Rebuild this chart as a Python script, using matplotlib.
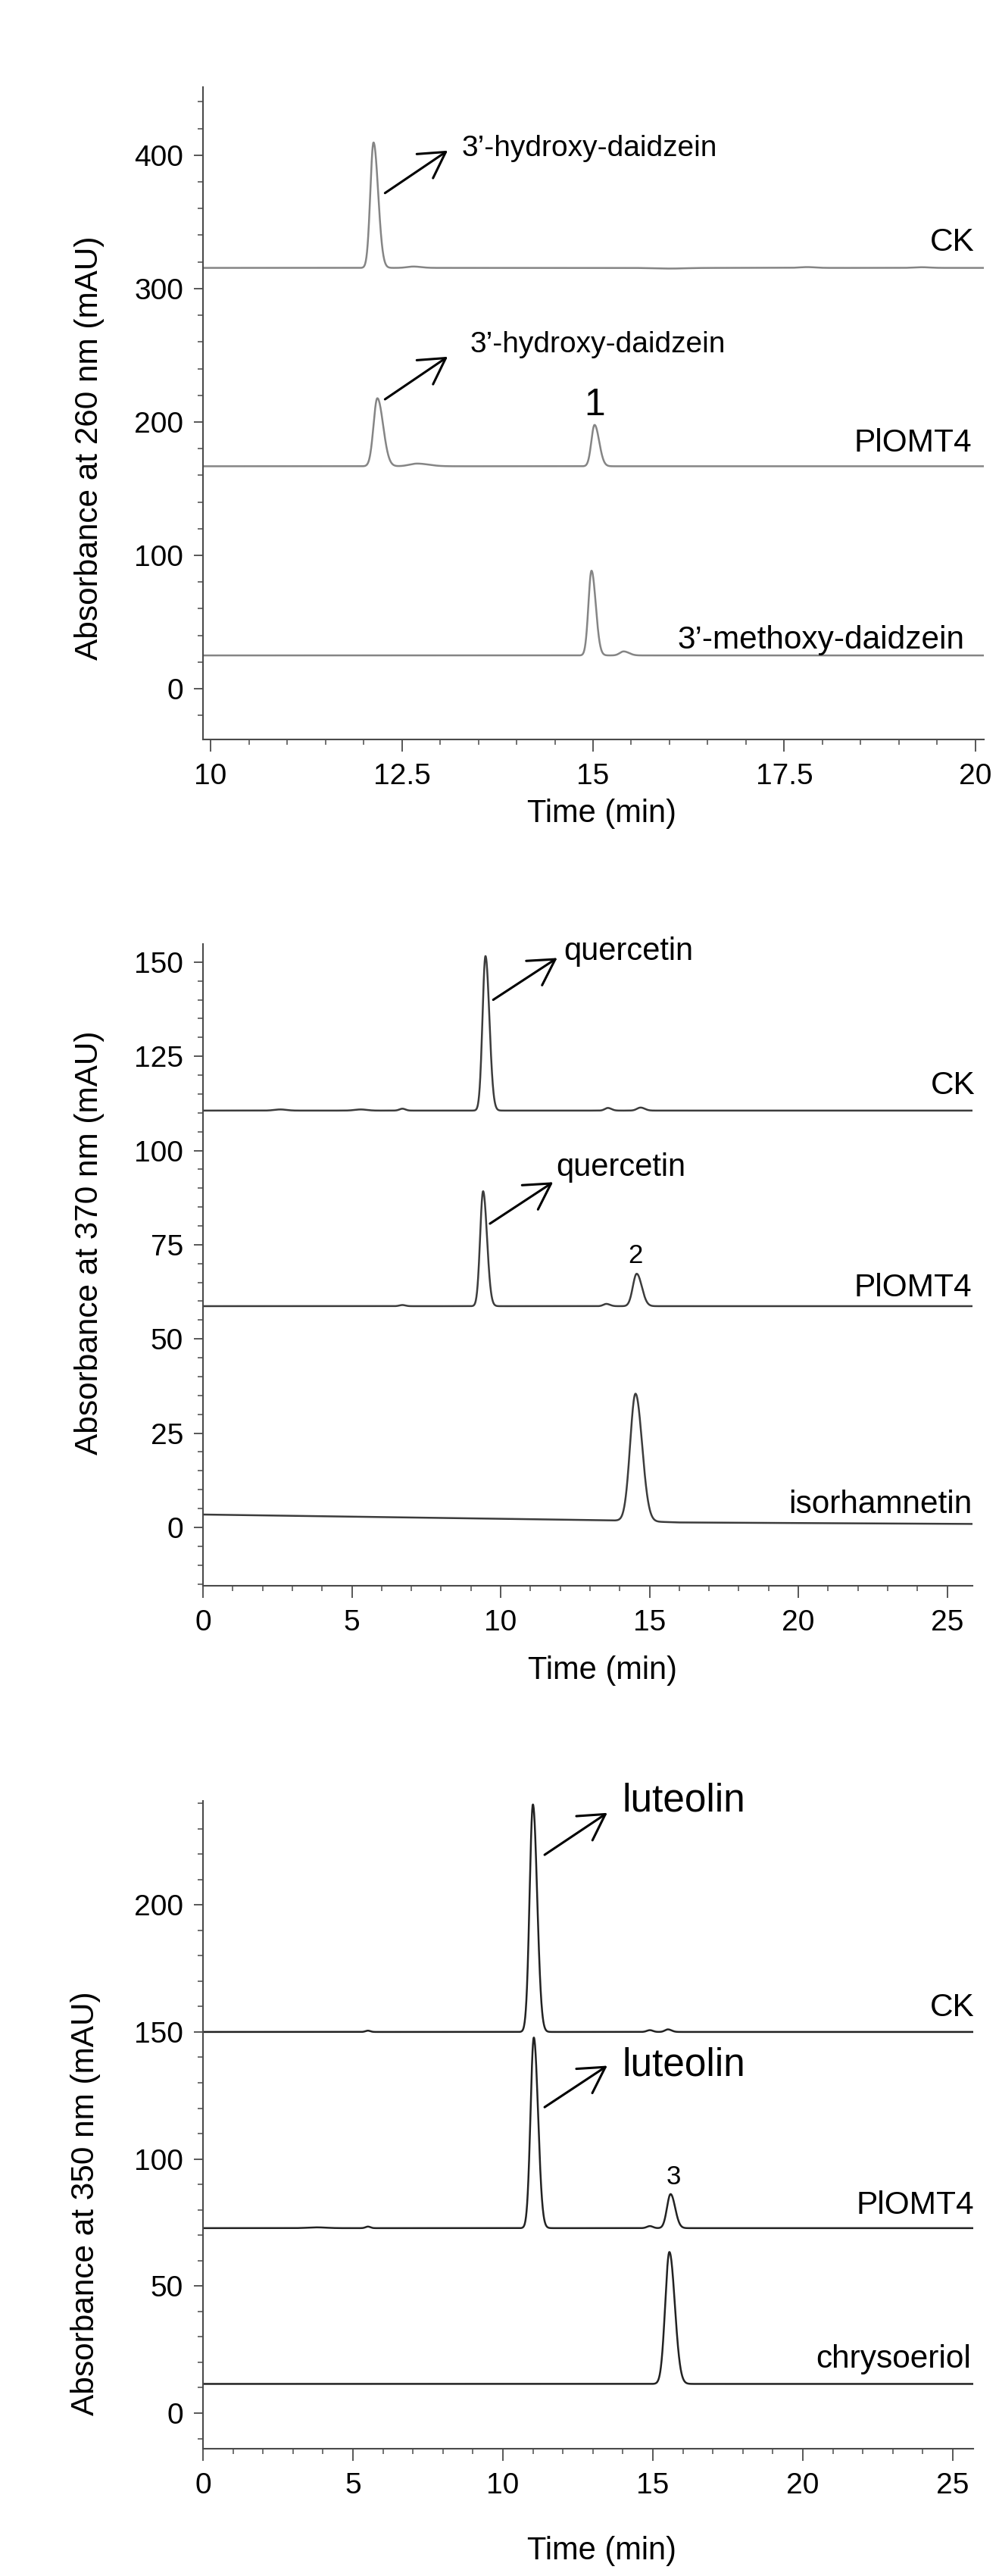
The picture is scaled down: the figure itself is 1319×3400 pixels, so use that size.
import numpy as np
import matplotlib
matplotlib.use("Agg")
import matplotlib.pyplot as plt
from matplotlib import font_manager
from matplotlib.ticker import MultipleLocator, FuncFormatter

# ---------------- data ----------------
# panel A: 260 nm
a_names = ["CK", "PlOMT4", "3’-methoxy-daidzein"]
a_baseline = [315.5, 166.8, 25.0]
a_rt = [[12.13, 12.65, 16.0, 17.8, 19.3],
        [12.18, 12.70, 15.02],
        [14.98, 15.40]]
a_height = [[94.0, 1.0, -0.5, 0.6, 0.5],
            [51.0, 2.0, 31.0],
            [63.5, 3.0]]
a_sig_left = [[0.042, 0.08, 0.2, 0.1, 0.1],
              [0.050, 0.10, 0.042],
              [0.040, 0.05]]
a_sig_right = [[0.060, 0.10, 0.2, 0.1, 0.1],
               [0.075, 0.15, 0.060],
               [0.055, 0.07]]

# panel B: 370 nm
b_names = ["CK", "PlOMT4", "isorhamnetin"]
b_baseline = [110.6, 58.7, 0.0]
b_drift_t = [0, 14, 16, 26]
b_drift = [[0.0, 0.0, 0.0, 0.0],
           [0.0, 0.0, 0.0, 0.0],
           [3.4, 1.8, 1.3, 0.9]]
b_rt = [[9.49, 6.7, 13.6, 14.7, 2.6, 5.3],
        [9.41, 6.7, 13.55, 14.57],
        [14.53]]
b_height = [[41.0, 0.5, 0.7, 0.8, 0.3, 0.3],
            [30.5, 0.3, 0.6, 8.6],
            [33.8]]
b_sig_left = [[0.10, 0.10, 0.10, 0.12, 0.2, 0.2],
              [0.10, 0.10, 0.10, 0.13],
              [0.18]]
b_sig_right = [[0.13, 0.10, 0.12, 0.14, 0.2, 0.2],
               [0.13, 0.10, 0.12, 0.17],
               [0.22]]

# panel C: 350 nm
c_names = ["CK", "PlOMT4", "chrysoeriol"]
c_baseline = [150.0, 72.8, 11.5]
c_rt = [[11.00, 5.5, 14.9, 15.5],
        [11.03, 5.5, 14.9, 15.59, 3.8],
        [15.55]]
c_height = [[89.5, 0.5, 0.7, 1.0],
            [75.0, 0.6, 0.8, 13.4, 0.3],
            [51.9]]
c_sig_left = [[0.11, 0.08, 0.10, 0.10],
              [0.11, 0.08, 0.10, 0.12, 0.3],
              [0.14]]
c_sig_right = [[0.14, 0.08, 0.10, 0.12],
               [0.14, 0.08, 0.10, 0.15, 0.3],
               [0.18]]


def trace(t, base, rts, hs, sl, sr):
    y = np.full_like(t, base, dtype=float)
    for r, h, a, b in zip(rts, hs, sl, sr):
        s = np.where(t < r, a, b)
        y += h * np.exp(-0.5 * ((t - r) / s) ** 2)
    return y


# ---------------- style ----------------
plt.rcParams["font.family"] = ["Liberation Sans", "DejaVu Sans"]
try:
    font_manager.findfont(font_manager.FontProperties(family="Liberation Sans Narrow"),
                          fallback_to_default=False)
    tick_family = ["Liberation Sans Narrow", "Liberation Sans"]
    tick_size = 32
except Exception:
    tick_family = ["Liberation Sans", "DejaVu Sans"]
    tick_size = 28

spine_col = "#4a4a4a"
fmt = FuncFormatter(lambda v, p: "%g" % v)

fig = plt.figure(figsize=(13.19, 34.0), dpi=100)

panels = [
    dict(rect=[268 / 1319, 1 - 976 / 3400, 1031 / 1319, 861 / 3400],
         xlim=(9.9, 20.11), ylim=(-38, 451), xmaj=2.5, xmin=0.5, ymaj=100, ymin=20,
         names=a_names, base=a_baseline, rt=a_rt, h=a_height, sl=a_sig_left, sr=a_sig_right,
         color="#858585", ylabel="Absorbance at 260 nm (mAU)",
         ylab=(-0.1455, 0.447), xlab=(0.511, -0.114),
         labels=[(19.99, 334.7), (19.95, 184.1), (19.86, 36.4)]),
    dict(rect=[268 / 1319, 1 - 2093 / 3400, 1016 / 1319, 847 / 3400],
         xlim=(0, 25.85), ylim=(-15.5, 154.8), xmaj=5, xmin=1, ymaj=25, ymin=5,
         names=b_names, base=b_baseline, rt=b_rt, h=b_height, sl=b_sig_left, sr=b_sig_right,
         color="#3c3c3c", ylabel="Absorbance at 370 nm (mAU)",
         ylab=(-0.1476, 0.535), xlab=(0.519, -0.132),
         labels=[(25.93, 117.2), (25.83, 63.5), (25.83, 6.0)]),
    dict(rect=[268 / 1319, 1 - 3232 / 3400, 1017 / 1319, 855 / 3400],
         xlim=(0, 25.68), ylim=(-14, 240.9), xmaj=5, xmin=1, ymaj=50, ymin=10,
         names=c_names, base=c_baseline, rt=c_rt, h=c_height, sl=c_sig_left, sr=c_sig_right,
         color="#222222", ylabel="Absorbance at 350 nm (mAU)",
         ylab=(-0.152, 0.379), xlab=(0.518, -0.158),
         labels=[(25.73, 159.4), (25.71, 81.7), (25.61, 21.3)]),
]

axes = []
for k, p in enumerate(panels):
    ax = fig.add_axes(p["rect"])
    axes.append(ax)
    t = np.linspace(p["xlim"][0], p["xlim"][1], 4000)
    for i in range(3):
        y = trace(t, p["base"][i], p["rt"][i], p["h"][i], p["sl"][i], p["sr"][i])
        if k == 1:
            y = y + np.interp(t, b_drift_t, b_drift[i])
        ax.plot(t, y, color=p["color"], lw=1.8, solid_joinstyle="round")
        ax.text(p["labels"][i][0], p["labels"][i][1], p["names"][i], ha="right",
                va="center", fontsize=30.5, clip_on=False)
    ax.set_xlim(*p["xlim"])
    ax.set_ylim(*p["ylim"])
    ax.xaxis.set_major_locator(MultipleLocator(p["xmaj"]))
    ax.xaxis.set_minor_locator(MultipleLocator(p["xmin"]))
    ax.yaxis.set_major_locator(MultipleLocator(p["ymaj"]))
    ax.yaxis.set_minor_locator(MultipleLocator(p["ymin"]))
    ax.xaxis.set_major_formatter(fmt)
    ax.yaxis.set_major_formatter(fmt)
    for s in ["top", "right"]:
        ax.spines[s].set_visible(False)
    for s in ["left", "bottom"]:
        ax.spines[s].set_color(spine_col)
        ax.spines[s].set_linewidth(1.5)
    ax.tick_params(axis="y", which="major", direction="out", length=8.6, width=1.3,
                   color=spine_col, pad=10)
    ax.tick_params(axis="y", which="minor", direction="out", length=5, width=1.1,
                   color=spine_col)
    ax.tick_params(axis="x", which="major", direction="out", length=11.5, width=1.3,
                   color=spine_col, pad=10.5)
    ax.tick_params(axis="x", which="minor", direction="out", length=5, width=1.1,
                   color=spine_col)
    for lab in ax.get_xticklabels() + ax.get_yticklabels():
        lab.set_family(tick_family)
        lab.set_fontsize(tick_size)
    ax.set_ylabel(p["ylabel"], fontsize=30.5, va="center")
    ax.yaxis.set_label_coords(*p["ylab"])
    ax.set_xlabel("Time (min)", fontsize=30, va="center")
    ax.xaxis.set_label_coords(*p["xlab"])

arrow = dict(arrowstyle="->,head_length=0.4,head_width=0.23", lw=2.2, color="black",
             mutation_scale=60, shrinkA=0, shrinkB=0)

# panel A annotations
ax = axes[0]
ax.annotate("", xy=(13.10, 403.4), xytext=(12.28, 371.6), arrowprops=arrow)
ax.text(13.28, 405.1, "3’-hydroxy-daidzein", fontsize=28, va="center")
ax.annotate("", xy=(13.10, 248.9), xytext=(12.28, 217.0), arrowprops=arrow)
ax.text(13.39, 258.0, "3’-hydroxy-daidzein", fontsize=28, va="center")
ax.text(15.02, 212.2, "1", fontsize=36, ha="center", va="center")

# panel B annotations
ax = axes[1]
ax.annotate("", xy=(11.90, 151.1), xytext=(9.75, 140.0), arrowprops=arrow)
ax.text(12.11, 152.8, "quercetin", fontsize=30, va="center", clip_on=False)
ax.annotate("", xy=(11.76, 91.6), xytext=(9.64, 80.6), arrowprops=arrow)
ax.text(11.86, 95.4, "quercetin", fontsize=30, va="center")
ax.text(14.53, 72.0, "2", fontsize=25, ha="center", va="center")

# panel C annotations
ax = axes[2]
ax.annotate("", xy=(13.48, 236.2), xytext=(11.39, 219.7), arrowprops=arrow)
ax.text(13.98, 241.0, "luteolin", fontsize=37, va="center", clip_on=False)
ax.annotate("", xy=(13.48, 136.7), xytext=(11.39, 120.4), arrowprops=arrow)
ax.text(13.98, 137.0, "luteolin", fontsize=37, va="center")
ax.text(15.69, 93.0, "3", fontsize=25, ha="center", va="center")

fig.savefig("out.png", dpi=100, facecolor="white")
